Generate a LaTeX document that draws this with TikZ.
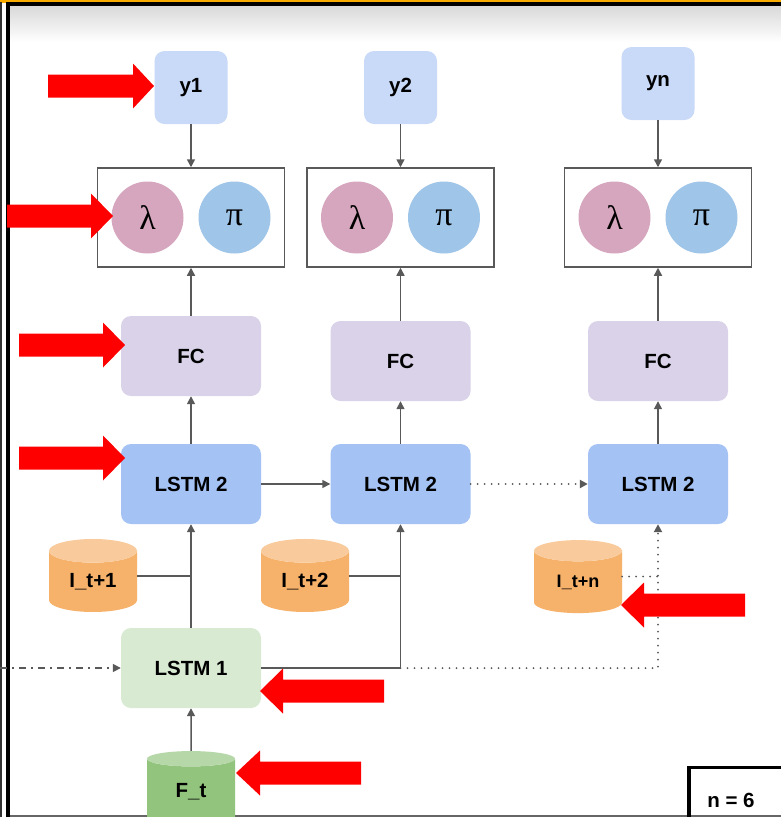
\documentclass[tikz,border=0pt]{standalone}
\usepackage{fontspec}
\setmainfont{Liberation Sans}
\newfontfamily\greekfont{Liberation Serif}
\usetikzlibrary{arrows.meta,shapes.geometric}

\definecolor{linegray}{HTML}{595959}
\definecolor{ybox}{HTML}{C9DAF8}
\definecolor{lamfill}{HTML}{D5A6BD}
\definecolor{pifill}{HTML}{9FC5E8}
\definecolor{fcfill}{HTML}{D9D2E9}
\definecolor{lstmtwo}{HTML}{A4C2F4}
\definecolor{lstmone}{HTML}{D9EAD3}
\definecolor{inbody}{HTML}{F6B26B}
\definecolor{intop}{HTML}{F9CB9C}
\definecolor{ftbody}{HTML}{93C47D}
\definecolor{fttop}{HTML}{B6D7A8}
\definecolor{arrowred}{HTML}{FF0000}
\definecolor{topbar}{HTML}{F9AB00}

\tikzset{
  lbl/.style={font=\fontsize{20.5}{24}\selectfont\bfseries},
  rbox/.style={lbl,rounded corners=10pt,inner sep=0pt,minimum width=140pt,minimum height=80pt},
  ybx/.style={rbox,fill=ybox,minimum width=73pt,minimum height=73pt},
  outbox/.style={draw=linegray,line width=1.5pt,minimum width=187pt,minimum height=99pt,inner sep=0pt},
  circ/.style={circle,inner sep=0pt,minimum size=72pt,font=\greekfont\fontsize{34}{36}\selectfont},
  cyl/.style={lbl,cylinder,shape border rotate=90,cylinder uses custom fill,aspect=0.5,
    minimum width=88pt,minimum height=73pt,inner sep=0pt},
  conn/.style={draw=linegray,line width=1.5pt},
  dotline/.style={conn,line width=2pt,line cap=round,dash pattern=on 0pt off 7pt},
  dashdot/.style={conn,dash pattern=on 7pt off 5pt on 2pt off 5pt},
  >={Triangle[length=8pt,width=8pt]}
}

\begin{document}
\begin{tikzpicture}[x=1pt,y=-1pt]
\clip (0,0) rectangle (781,817);

\fill[white] (0,0) rectangle (781,817);
\shade[top color=black!15,bottom color=white] (10,6) rectangle (781,42);
\fill[topbar] (0,0) rectangle (781,2.5);
\fill[black!80] (0,2) rectangle (2,817);
\fill[black] (6,2) rectangle (10,817);
\fill[black] (6,2) rectangle (781,6);
\fill[black!60] (10,815) rectangle (781,817);

\node[ybx] (y1) at (191,87.5) {y1};
\node[ybx] (y2) at (400.5,87.5) {y2};
\node[ybx] (yn) at (658,83.5) {yn};

\node[outbox] (out1) at (191,217.5) {};
\node[outbox] (out2) at (400.5,217.5) {};
\node[outbox] (outn) at (658,217.5) {};
\foreach \o in {out1,out2,outn}{
  \node[circ,fill=lamfill] (lam-\o) at ([xshift=-43.5pt]\o.center) {λ};
  \node[circ,fill=pifill] (pi-\o) at ([xshift=43.5pt]\o.center) {π};
}

\node[rbox,fill=fcfill] (fc1) at (191,356) {FC};
\node[rbox,fill=fcfill] (fc2) at (400.5,361) {FC};
\node[rbox,fill=fcfill] (fcn) at (658,361) {FC};

\node[rbox,fill=lstmtwo] (lstma) at (191,484) {LSTM 2};
\node[rbox,fill=lstmtwo] (lstmb) at (400.5,484) {LSTM 2};
\node[rbox,fill=lstmtwo] (lstmn) at (658,484) {LSTM 2};

\node[cyl,cylinder body fill=inbody,cylinder end fill=intop] (it1) at (93,581.5) {I\_t+1};
\node[cyl,cylinder body fill=inbody,cylinder end fill=intop] (it2) at (305,581.5) {I\_t+2};
\node[cyl,cylinder body fill=inbody,cylinder end fill=intop,font=\fontsize{18}{22}\selectfont\bfseries] (itn) at (578,582) {I\_t+n};

\node[rbox,fill=lstmone] (lstm1) at (191,668) {LSTM 1};
\node[cyl,cylinder body fill=ftbody,cylinder end fill=fttop] (ft) at (191,791.5) {F\_t};
\coordinate (past) at (0,668);

\draw[conn,->] (y1) -- (out1);
\draw[conn,->] (y2) -- (out2);
\draw[conn,->] (yn) -- (outn);
\draw[conn,->] (fc1) -- (out1);
\draw[conn,->] (fc2) -- (out2);
\draw[conn,->] (fcn) -- (outn);
\draw[conn,->] (lstma) -- (fc1);
\draw[conn,->] (lstmb) -- (fc2);
\draw[conn,->] (lstmn) -- (fcn);
\draw[conn,->] (lstma) -- (lstmb);
\draw[dotline,->] (lstmb) -- (lstmn);
\draw[conn,->] (lstm1) -- (lstma);
\draw[conn] ([yshift=5.5pt]it1.east) -- ([yshift=5.5pt]it1.east -| lstma.south);
\draw[conn] ([yshift=5.5pt]it2.east) -- ([yshift=5.5pt]it2.east -| lstmb.south);
\draw[dotline] ([yshift=5.5pt]itn.east) -- ([yshift=5.5pt]itn.east -| lstmn.south);
\draw[conn,->] (lstm1.east) -- (lstm1.east -| lstmb.south) -- (lstmb.south);
\draw[dotline,->] (lstm1.east -| lstmb.south) -- (lstm1.east -| lstmn.south) -- (lstmn.south);
\draw[dashdot,->] (past) -- (lstm1);
\draw[conn,->] (ft) -- (lstm1);

\node[lbl] (nsix) at (731,800) {n = 6};
\draw[line width=3.5pt] (689,830) |- (800,767.5);

\foreach \tl/\hb/\tp/\yy in {48/133/154/86, 7/91/113/216, 19/103/125/345, 19/103/125/458,
  745/644/621/605, 384/283/260/691, 361/260/236/773}
  \fill[arrowred] (\tl,\yy-11.5) -- (\hb,\yy-11.5) -- (\hb,\yy-22.5) -- (\tp,\yy)
    -- (\hb,\yy+22.5) -- (\hb,\yy+11.5) -- (\tl,\yy+11.5) -- cycle;
\end{tikzpicture}
\end{document}
